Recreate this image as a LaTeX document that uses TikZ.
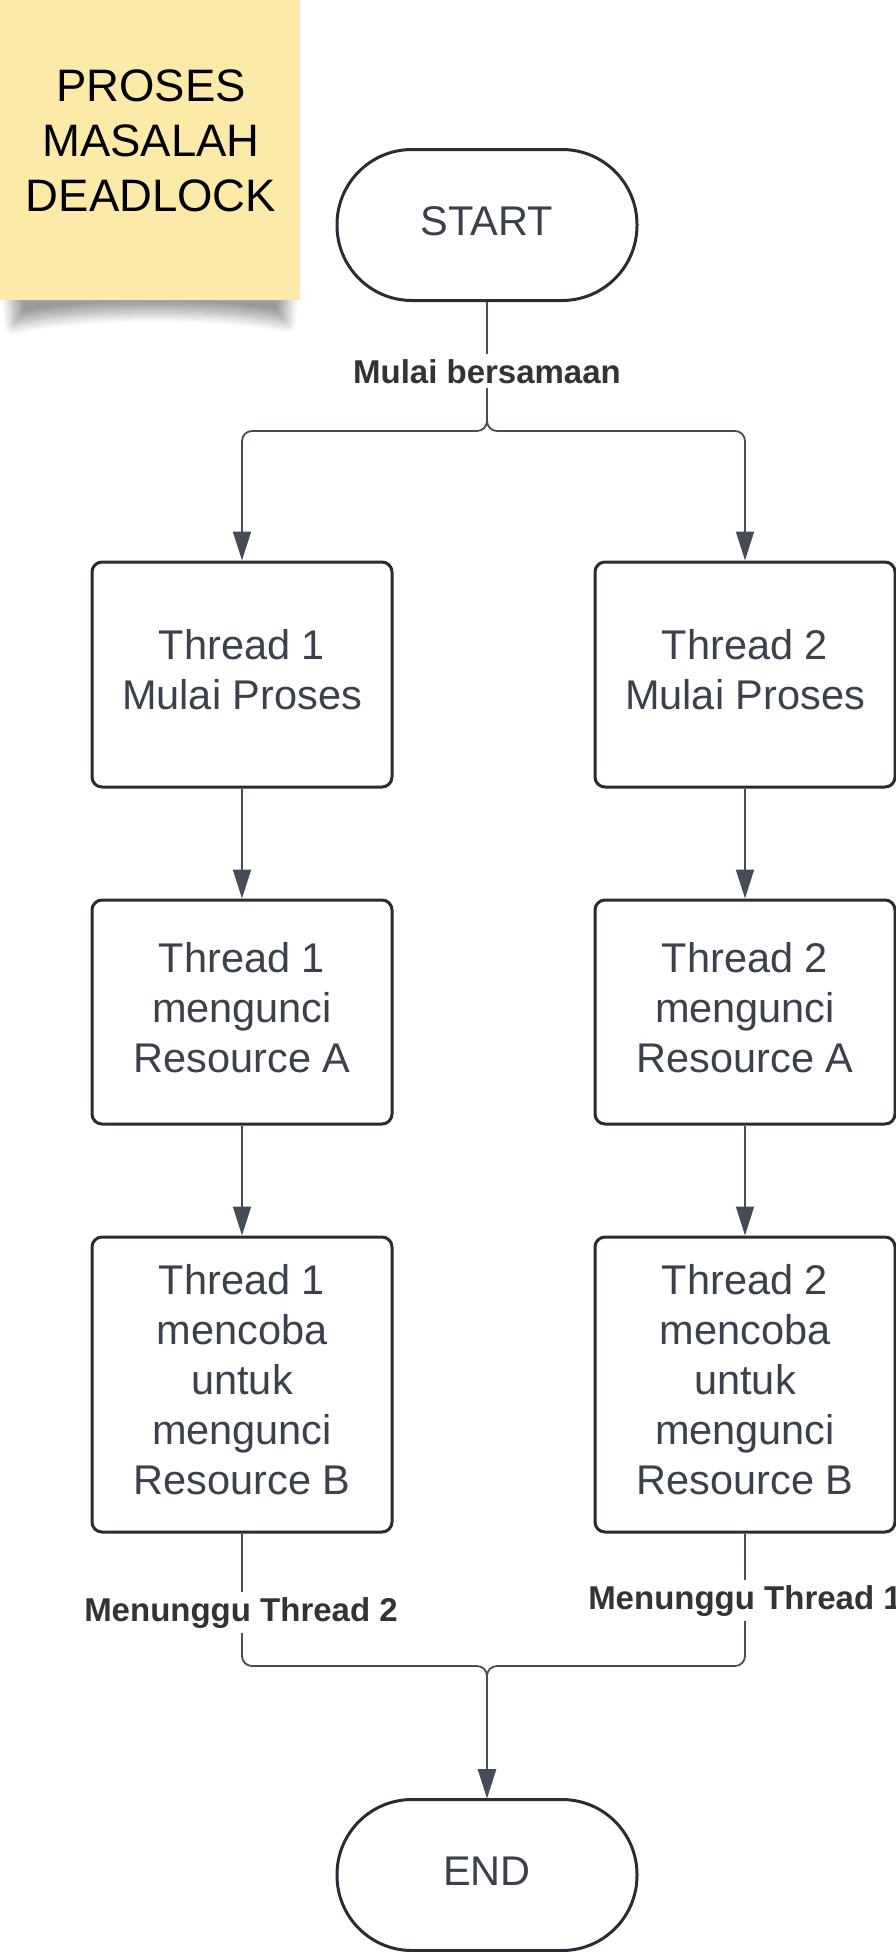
\documentclass[tikz,border=0pt]{standalone}
\usepackage{fontspec}
\setmainfont{Liberation Sans}
\usetikzlibrary{arrows.meta,shadows.blur}
\definecolor{notecol}{HTML}{FDE9A8}
\definecolor{edgecol}{HTML}{282C33}
\definecolor{txtcol}{HTML}{3A414A}
\definecolor{wirecol}{HTML}{454C55}
\definecolor{lblcol}{HTML}{333333}
\begin{document}
\begin{tikzpicture}[x=1pt,y=-1pt,
  proc/.style={draw=edgecol,line width=3pt,rounded corners=10pt,fill=white,
    minimum width=300pt,align=center,text=txtcol,
    font=\fontsize{41.5}{50}\selectfont,inner sep=0pt},
  term/.style={draw=edgecol,line width=3pt,rounded corners=75pt,fill=white,
    minimum width=300pt,minimum height=151pt,text=txtcol,
    font=\fontsize{41.5}{50}\selectfont,inner sep=0pt},
  conn/.style={draw=wirecol,line width=1.8pt,rounded corners=10pt},
  arr/.style={conn,-{Triangle[length=29pt,width=18pt]}},
  lab/.style={fill=white,text=lblcol,font=\bfseries\fontsize{33}{38}\selectfont,
    inner xsep=3pt,inner ysep=5pt}]
\useasboundingbox (0,0) rectangle (896,1952);

% sticky note with shadow
\path[blur shadow={shadow xshift=0pt,shadow yshift=0pt,shadow blur radius=11pt,
  shadow opacity=40,shadow blur steps=16}]
  (12,292) -- (288,292) -- (286,322) .. controls (220,308) and (80,308) .. (14,324) -- cycle;
\node[fill=notecol,minimum width=300pt,minimum height=300pt,inner sep=0pt,
  anchor=north west] (note) at (0,0) {};
\node[font=\fontsize{45.5}{55}\selectfont,align=center,text=black] (title)
  at (151,141) {PROSES\\MASALAH\\DEADLOCK};

% terminals
\node[term] (start) at (487,225) {\strut START};
\node[term] (end) at (487,1875) {\strut END};

% process boxes
\node[proc,minimum height=225pt] (a1) at (242,674.5)
  {\strut Thread 1\\\strut Mulai Proses};
\node[proc,minimum height=224pt] (a2) at (242,1012)
  {\strut Thread 1\\\strut mengunci\\\strut Resource A};
\node[proc,minimum height=295pt] (a3) at (242,1384.5)
  {\strut Thread 1\\\strut mencoba\\\strut untuk\\\strut mengunci\\\strut Resource B};
\node[proc,minimum height=225pt] (b1) at (745,674.5)
  {\strut Thread 2\\\strut Mulai Proses};
\node[proc,minimum height=224pt] (b2) at (745,1012)
  {\strut Thread 2\\\strut mengunci\\\strut Resource A};
\node[proc,minimum height=295pt] (b3) at (745,1384.5)
  {\strut Thread 2\\\strut mencoba\\\strut untuk\\\strut mengunci\\\strut Resource B};

\coordinate (split) at (487,431);
\coordinate (merge) at (487,1666);

% connectors
\draw[arr] (start.south) -- (split) -| (a1.north);
\draw[arr] (start.south) -- (split) -| (b1.north);
\draw[arr] (a1.south) -- (a2.north);
\draw[arr] (a2.south) -- (a3.north);
\draw[arr] (b1.south) -- (b2.north);
\draw[arr] (b2.south) -- (b3.north);
\draw[arr] (a3.south) |- (merge) -- (end.north);
\draw[arr] (b3.south) |- (merge) -- (end.north);

% connector labels
\node[lab,anchor=base] (l0) at (487,383) {Mulai bersamaan};
\node[lab,anchor=base] (l1) at (241,1621) {Menunggu Thread 2};
\node[lab,anchor=base] (l2) at (745,1609) {Menunggu Thread 1};
\end{tikzpicture}
\end{document}
